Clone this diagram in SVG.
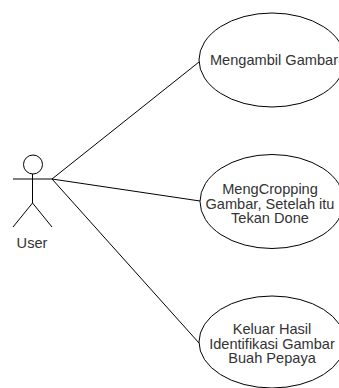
<svg xmlns="http://www.w3.org/2000/svg" width="339" height="388" viewBox="0 0 339 388">
<style>
.s{fill:none;stroke:#000;stroke-width:1}
.e{fill:#fff;stroke:#000;stroke-width:1}
text{font-family:"Liberation Sans",Arial,sans-serif;font-size:14.6px;fill:#333;text-anchor:middle}
</style>
<rect width="339" height="388" fill="#fff"/>
<g id="connectors">
<line class="s" x1="52" y1="179" x2="199" y2="62"/>
<line class="s" x1="52" y1="179" x2="200" y2="201"/>
<line class="s" x1="52" y1="179" x2="199" y2="343"/>
</g>
<g id="user">
<circle class="s" cx="33" cy="164.5" r="9.5"/>
<line class="s" x1="32.5" y1="174" x2="32.5" y2="203"/>
<line class="s" x1="13" y1="179" x2="52" y2="179"/>
<line class="s" x1="32.5" y1="203" x2="13" y2="227"/>
<line class="s" x1="32.5" y1="203" x2="52" y2="227"/>
<text x="32" y="248">User</text>
</g>
<g id="uc1">
<ellipse class="e" cx="272" cy="60" rx="73" ry="47"/>
<text x="274" y="65">Mengambil Gambar</text>
</g>
<g id="uc2">
<ellipse class="e" cx="272" cy="201.5" rx="72" ry="47"/>
<text x="270" y="194">MengCropping</text>
<text x="270" y="208.5">Gambar, Setelah itu</text>
<text x="270" y="223">Tekan Done</text>
</g>
<g id="uc3">
<ellipse class="e" cx="272" cy="342" rx="73" ry="46"/>
<text x="272" y="334">Keluar Hasil</text>
<text x="272" y="348.5">Identifikasi Gambar</text>
<text x="272" y="363">Buah Pepaya</text>
</g>
</svg>
